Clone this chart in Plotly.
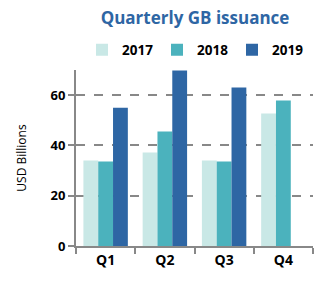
import plotly.graph_objects as go

quarters = ["Q1", "Q2", "Q3", "Q4"]
years = ["2017", "2018", "2019"]
v2017 = [34.0, 37.2, 34.0, 52.7]
v2018 = [33.6, 45.5, 33.6, 57.9]
v2019 = [55.0, 69.8, 63.0, None]
colors = ["#C9E8E6", "#4BB2BD", "#2E66A4"]

fig = go.Figure()
for name, vals, c in zip(years, [v2017, v2018, v2019], colors):
    fig.add_trace(go.Bar(x=quarters, y=vals, name="<b>" + name + "</b>", marker_color=c, marker_line_width=0))

fig.update_layout(
    width=325, height=282,
    margin=dict(l=76, r=12, t=70, b=36),
    paper_bgcolor="white", plot_bgcolor="white",
    barmode="group", bargap=0.25, bargroupgap=0,
    font=dict(family="Open Sans", color="black"),
    title=dict(text="<b>Quarterly GB issuance</b>", x=0.6, xanchor="center", y=0.935, yanchor="middle",
               font=dict(size=17, color="#2E66A4", family="Open Sans")),
    legend=dict(orientation="h", x=0.5, xanchor="center", y=1.114, yanchor="middle",
                font=dict(size=13.5, family="Open Sans"), entrywidth=30, entrywidthmode="pixels",
                traceorder="normal", itemwidth=30, tracegroupgap=0),
    showlegend=True,
)
fig.update_xaxes(showline=True, linecolor="#888888", linewidth=2, tickson="boundaries",
                 ticks="outside", ticklen=6, tickwidth=2, tickcolor="#888888",
                 tickfont=dict(size=14, family="Open Sans", color="black"), showgrid=False,
                 tickprefix="<b>", ticksuffix="</b>")
fig.update_yaxes(range=[0, 70], dtick=20, showline=True, linecolor="#888888", linewidth=2,
                 ticks="outside", ticklen=6, tickwidth=2, tickcolor="#888888",
                 showgrid=True, gridcolor="#888888", gridwidth=2, griddash="dash", zeroline=False,
                 tickfont=dict(size=13, family="Open Sans", color="black"),
                 tickprefix="<b>", ticksuffix="</b>",
                 title=dict(text="USD Billions", font=dict(size=12, family="Open Sans", color="black"), standoff=21))
fig.write_html("out.html")
